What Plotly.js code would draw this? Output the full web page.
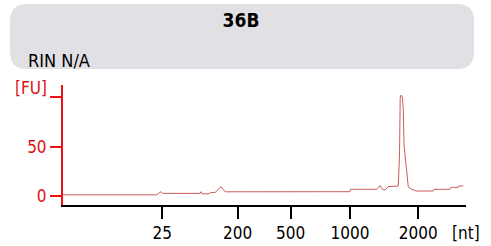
<!DOCTYPE html>
<html>
<head>
<meta charset="utf-8">
<script src="https://cdn.plot.ly/plotly-3.0.1.min.js"></script>
<style>html,body{margin:0;padding:0;background:#fff;}#chart{width:491px;height:246px;}</style>
</head>
<body>
<div id="chart"></div>
<script>
// Ladder (size markers) placed on the migration-time axis
var ladderSizes = ['25', '200', '500', '1000', '2000'];
var ladderTimes = [31.32, 40.67, 47.25, 54.61, 63.08];

// Electropherogram: migration time [s] and fluorescence [FU]
var timeS = [19.0, 30.66, 30.97, 31.16, 31.34, 36.0, 36.12, 36.25, 37.11, 37.24, 37.86, 37.98, 38.23, 38.60, 38.97, 39.22, 39.35,
  54.61, 54.67, 57.92, 58.33, 58.64, 58.95, 59.36, 60.60, 60.69, 60.75, 60.84, 60.96, 61.10, 61.22, 61.31, 61.43, 61.56, 61.68, 61.84,
  62.26, 62.86, 64.94, 65.03, 67.01, 67.14, 68.04, 68.13, 68.67];
var fluor = [1.2, 1.2, 3.5, 4.4, 2.7, 2.7, 4.4, 2.2, 2.2, 3.5, 3.5, 4.6, 6.1, 9.4, 5.6, 4.1, 4.3,
  4.4, 6.8, 6.8, 10.6, 6.6, 6.1, 9.6, 10.1, 26.4, 41.6, 100.4, 102.4, 100.4, 87.2, 51.7, 41.6, 29.4, 15.2, 9.1,
  6.8, 5.1, 5.1, 6.8, 6.8, 8.8, 8.8, 10.3, 10.3];
var yTicks = [0, 50, 100];
var yTickText = ['0', '50', ''];

var W = 491, H = 246, L = 63, R = 25, T = 85, B = 41;
var pw = W - L - R, ph = H - T - B;
function px(x) { return (x - L) / pw; }
function py(y) { return (H - B - y) / ph; }

// rounded header box
var bx0 = px(10), bx1 = px(474), by1 = py(4), by0 = py(69);
var rx = 17 / pw, ry = 17 / ph;
var path = 'M' + (bx0 + rx) + ',' + by1 + ' L' + (bx1 - rx) + ',' + by1 +
  ' Q' + bx1 + ',' + by1 + ' ' + bx1 + ',' + (by1 - ry) +
  ' L' + bx1 + ',' + (by0 + ry) + ' Q' + bx1 + ',' + by0 + ' ' + (bx1 - rx) + ',' + by0 +
  ' L' + (bx0 + rx) + ',' + by0 + ' Q' + bx0 + ',' + by0 + ' ' + bx0 + ',' + (by0 + ry) +
  ' L' + bx0 + ',' + (by1 - ry) + ' Q' + bx0 + ',' + by1 + ' ' + (bx0 + rx) + ',' + by1 + ' Z';

var FONT = 'DejaVu Sans Condensed, DejaVu Sans, sans-serif';

var data = [{
  x: timeS, y: fluor, type: 'scatter', mode: 'lines',
  line: {color: '#cc5c5c', width: 1}, hoverinfo: 'skip'
}];

var layout = {
  width: W, height: H,
  margin: {l: L, r: R, t: T, b: B, pad: 0},
  paper_bgcolor: '#ffffff', plot_bgcolor: 'rgba(0,0,0,0)',
  showlegend: false,
  font: {family: FONT, size: 17, color: '#000'},
  title: {text: '<b>36B</b>', x: 241 / W, xanchor: 'center', y: 1 - 20 / H, yanchor: 'middle',
    font: {family: FONT, size: 19, color: '#000'}},
  xaxis: {
    range: [19, 69], showgrid: false, zeroline: false,
    showline: true, linecolor: '#000', linewidth: 2,
    ticks: 'outside', ticklen: 12, tickwidth: 2, tickcolor: '#000',
    tickmode: 'array', tickvals: ladderTimes, ticktext: ladderSizes,
    tickfont: {family: FONT, size: 17, color: '#000'}
  },
  yaxis: {
    range: [-9.1, 112.6], showgrid: false, zeroline: false,
    showline: true, linecolor: '#ee1111', linewidth: 2,
    ticks: 'outside', ticklen: 11, tickwidth: 2, tickcolor: '#ee1111',
    tickmode: 'array', tickvals: yTicks, ticktext: yTickText,
    tickfont: {family: FONT, size: 17, color: '#dd1111'}
  },
  shapes: [{type: 'path', xref: 'paper', yref: 'paper', path: path,
    fillcolor: '#e1e0e5', line: {width: 0}, layer: 'below'}],
  annotations: [
    {text: 'RIN N/A', xref: 'paper', yref: 'paper', x: px(26), y: py(60), xanchor: 'left', yanchor: 'middle',
      showarrow: false, font: {family: FONT, size: 18, color: '#000'}},
    {text: '[FU]', xref: 'paper', yref: 'paper', x: px(49), y: py(88), xanchor: 'right', yanchor: 'middle',
      showarrow: false, font: {family: FONT, size: 17, color: '#dd1111'}},
    {text: '[nt]', xref: 'paper', yref: 'paper', x: px(466), y: py(233), xanchor: 'center', yanchor: 'middle',
      showarrow: false, font: {family: FONT, size: 17, color: '#000'}}
  ]
};

Plotly.newPlot('chart', data, layout, {staticPlot: true, displayModeBar: false});
</script>
</body>
</html>
